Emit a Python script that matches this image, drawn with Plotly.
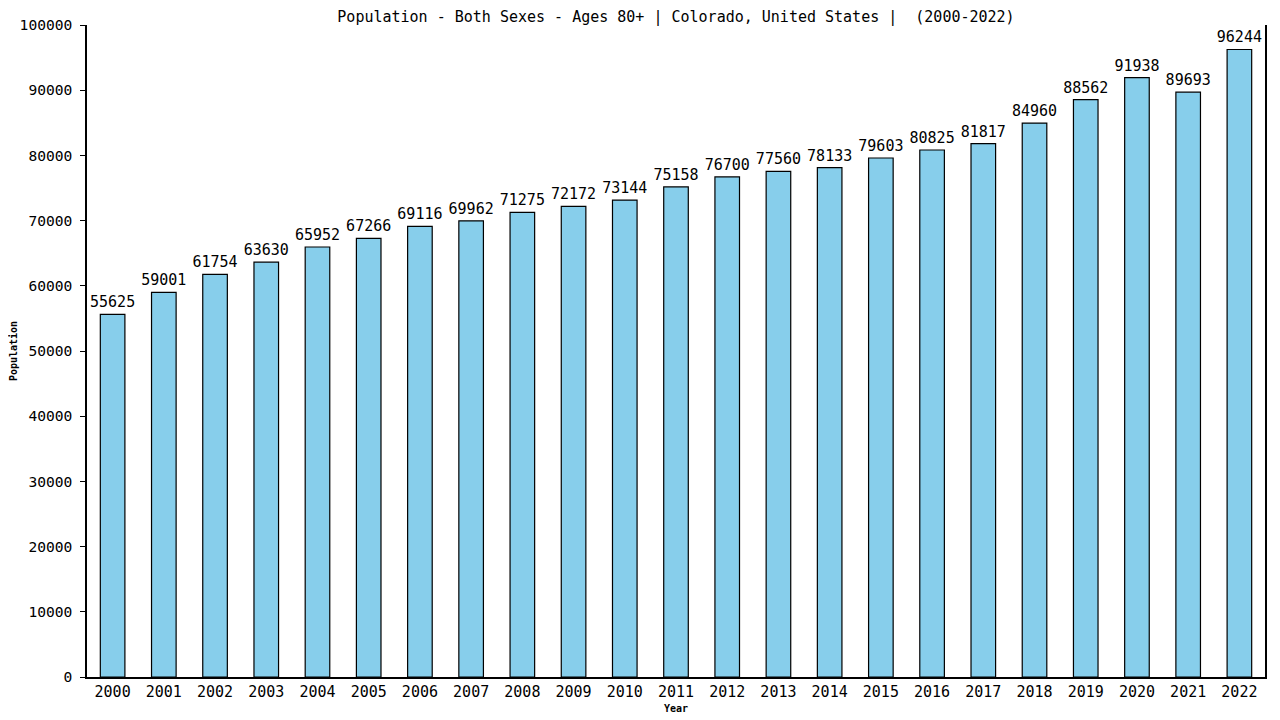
import plotly.graph_objects as go

years = [str(y) for y in range(2000, 2023)]
population = [55625, 59001, 61754, 63630, 65952, 67266, 69116, 69962, 71275, 72172,
              73144, 75158, 76700, 77560, 78133, 79603, 80825, 81817, 84960, 88562,
              91938, 89693, 96244]
y_ticks = list(range(0, 100001, 10000))

mono = "DejaVu Sans Mono"

fig = go.Figure(go.Bar(
    x=years, y=population,
    text=[str(v) for v in population],
    textposition="outside",
    textfont=dict(family=mono, size=15, color="black"),
    cliponaxis=False,
    width=0.48,
    marker=dict(color="#87ceeb", line=dict(color="black", width=1.2)),
))

# page body has an 8px margin, so the figure is 8px smaller each way
fig.update_layout(
    width=1272, height=712,
    margin=dict(l=79, r=15, t=17, b=43, autoexpand=False),
    plot_bgcolor="white", paper_bgcolor="white",
    showlegend=False,
    uniformtext=dict(minsize=15, mode="show"),
    title=dict(text="Population - Both Sexes - Ages 80+ | Colorado, United States |  (2000-2022)",
               x=0.5, xanchor="center", xref="paper", y=1 - 3 / 712, yanchor="top",
               font=dict(family=mono, size=15, color="black")),
    font=dict(family=mono, color="black"),
)

fig.update_xaxes(
    type="category", range=[-0.5, 22.5], automargin=False,
    showline=True, linecolor="black", linewidth=1.5,
    ticks="", tickfont=dict(family=mono, size=15, color="black"),
    title=dict(text="<b>Year</b>", font=dict(family=mono, size=10), standoff=5),
    showgrid=False,
)
fig.update_yaxes(
    range=[0, 100000], tickvals=y_ticks, ticktext=[str(v) for v in y_ticks],
    automargin=False,
    showline=True, linecolor="black", linewidth=1.5, mirror=True,
    ticks="outside", ticklen=5, tickcolor="black", ticklabelstandoff=5,
    tickfont=dict(family=mono, size=14.6, color="black"),
    title=dict(text="<b>Population</b>", font=dict(family=mono, size=10), standoff=4),
    showgrid=False, zeroline=False,
)

fig.write_html("out.html")
